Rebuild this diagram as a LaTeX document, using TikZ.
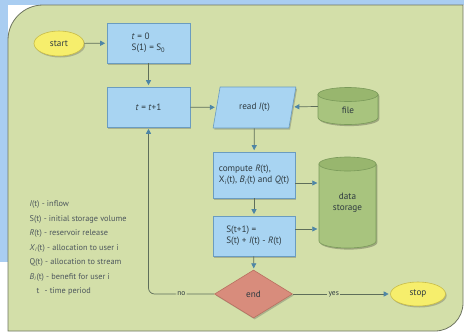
\documentclass[tikz,border=0pt]{standalone}
\usepackage{fontspec}
\setmainfont{PT Sans}
\usetikzlibrary{shapes.geometric,arrows.meta,shadows}
\definecolor{bgblue}{HTML}{A9CDF1}
\definecolor{panel}{HTML}{D3DFA9}
\definecolor{panelline}{HTML}{6E7560}
\definecolor{boxfill}{HTML}{A8D4F2}
\definecolor{boxline}{HTML}{6A9CC0}
\definecolor{cylfill}{HTML}{A8C47E}
\definecolor{cyltop}{HTML}{98B66E}
\definecolor{cylline}{HTML}{7A9A5A}
\definecolor{termfill}{HTML}{F6EE6C}
\definecolor{termline}{HTML}{C8BC48}
\definecolor{decfill}{HTML}{D88C7C}
\definecolor{decline}{HTML}{B87060}
\definecolor{flow}{HTML}{5E6E5A}
\definecolor{tipc}{HTML}{4E86A6}
\definecolor{txt}{HTML}{2E3A40}
\newcommand{\mycyl}[4]{% cx, cy, w, h
  \pgfmathsetmacro{\cxl}{#1-#3/2}\pgfmathsetmacro{\cxr}{#1+#3/2}
  \pgfmathsetmacro{\cyt}{#2-#4/2+7}\pgfmathsetmacro{\cyb}{#2+#4/2-7}
  \pgfmathsetmacro{\rx}{#3/2}
  \fill[black, opacity=0.25] ([shift={(1.3pt,-1.6pt)}]\cxl,\cyt) -- ([shift={(1.3pt,-1.6pt)}]\cxl,\cyb) arc[start angle=180,end angle=360,x radius=\rx pt,y radius=7pt] -- ([shift={(1.3pt,-1.6pt)}]\cxr,\cyt) arc[start angle=0,end angle=180,x radius=\rx pt,y radius=7pt] -- cycle;
  \draw[draw=cylline, fill=cylfill, line width=0.6pt] (\cxl,\cyt) -- (\cxl,\cyb) arc[start angle=180,end angle=360,x radius=\rx pt,y radius=7pt] -- (\cxr,\cyt) -- cycle;
  \draw[draw=cylline, fill=cyltop, line width=0.6pt] (#1,\cyt) ellipse [x radius=\rx pt, y radius=7pt];
}
\begin{document}
\begin{tikzpicture}[x=1pt,y=-1pt,
  boxshadow/.style={drop shadow={shadow xshift=1.2pt,shadow yshift=-1.5pt,opacity=0.3,fill=black!70}},
  boxfont/.style={font=\fontsize{9.2}{11}\selectfont, text=txt},
  procbox/.style={rectangle, draw=boxline, fill=boxfill, line width=0.6pt, minimum width=83pt, minimum height=40pt, inner sep=0pt, align=left, boxfont, boxshadow},
  term/.style={ellipse, draw=termline, fill=termfill, line width=0.6pt, minimum width=50pt, minimum height=25pt, inner sep=0pt, boxfont, boxshadow},
  storetext/.style={rectangle, inner sep=0pt, align=center, boxfont},
  decision/.style={diamond, draw=decline, fill=decfill, line width=0.6pt, minimum width=78pt, minimum height=48pt, inner sep=0pt, boxfont, boxshadow},
  iobox/.style={trapezium, trapezium left angle=70, trapezium right angle=110, trapezium stretches=true, draw=boxline, fill=boxfill, line width=0.6pt, minimum width=83pt, minimum height=41pt, inner sep=0pt, boxfont, boxshadow},
  flowarrow/.style={draw=flow, line width=0.7pt, shorten >=1.5pt, -{Triangle[length=5pt,width=5pt,fill=tipc,color=tipc]}},
  flowlabel/.style={fill=panel, inner sep=1.5pt, font=\fontsize{7.5}{8}\selectfont, text=txt},
  legendtext/.style={align=left, inner sep=0pt, font=\fontsize{8.3}{14.5}\selectfont, text=txt!85}
]
\useasboundingbox (0,0) rectangle (464,335);
\fill[white] (0,0) rectangle (464,335);
\fill[bgblue] (0,0) rectangle (464,5);
\fill[bgblue] (0,0) rectangle (8,262);
\draw[panelline, fill=panel, line width=0.8pt] (8,331) -- (8,40) .. controls (8,20.7) and (23.7,5) .. (43,5) -- (463,5) -- (463,303) .. controls (463,318.5) and (450.5,331) .. (435,331) -- cycle;

\mycyl{348}{106}{60}{37}
\mycyl{347.5}{202.5}{57}{91}

\node[term] (start) at (59,43.5) {start};
\node[procbox] (init) at (148.5,43) {\textit{t} = 0\\S(1) = S\textsubscript{0}};
\node[procbox] (incr) at (148.5,107) {\textit{t} = \textit{t}+1};
\node[iobox] (read) at (254.5,107.5) {read \textit{I}(t)};
\node[storetext, minimum width=60pt, minimum height=37pt, text depth=0pt] (file) at (348,106) {\raisebox{-7pt}{file}};
\node[procbox, minimum width=82pt, minimum height=46pt] (comp) at (254,175) {compute \textit{R}(t),\\X\textsubscript{\textit{i}}(t), \textit{B}\textsubscript{\textit{i}}(t) and \textit{Q}(t)};
\node[procbox, minimum width=82pt] (upd) at (254,236) {S(t+1) =\\S(t) + \textit{I}(t) - \textit{R}(t)};
\node[storetext, minimum width=57pt, minimum height=91pt] (data) at (347.5,202.5) {data\\storage};
\node[decision] (end) at (253.5,294) {end};
\node[term, minimum width=55pt, minimum height=24pt] (stop) at (418,294) {stop};

\node[legendtext, anchor=north west] (legend) at (29.5,200.5) {\textit{I}(t) - inflow\\S(t) - initial storage volume\\\textit{R}(t) - reservoir release\\\textit{X}\textsubscript{\textit{i}}(t) - allocation to user i\\Q(t) - allocation to stream\\\textit{B}\textsubscript{\textit{i}}(t) - benefit for user i\\\hspace*{7pt}t\hspace*{3pt} - time period};

\draw[flowarrow] (start) -- (init);
\draw[flowarrow] (init) -- (incr);
\draw[flowarrow] (incr) -- (read);
\draw[flowarrow] (file) -- (read);
\draw[flowarrow] (read) -- (comp);
\draw[flowarrow] (comp.east |- 0,183) -- (data.west |- 0,183);
\draw[flowarrow] (upd.east |- 0,229) -- (data.west |- 0,229);
\draw[flowarrow] (comp) -- (upd);
\draw[flowarrow] (upd) -- (end);
\draw[flowarrow] (end) -- node[flowlabel, pos=0.42] {yes} (stop);
\draw[flowarrow, rounded corners=6pt] (end.west) -| node[flowlabel, pos=0.25] {no} (incr.south);
\end{tikzpicture}
\end{document}
